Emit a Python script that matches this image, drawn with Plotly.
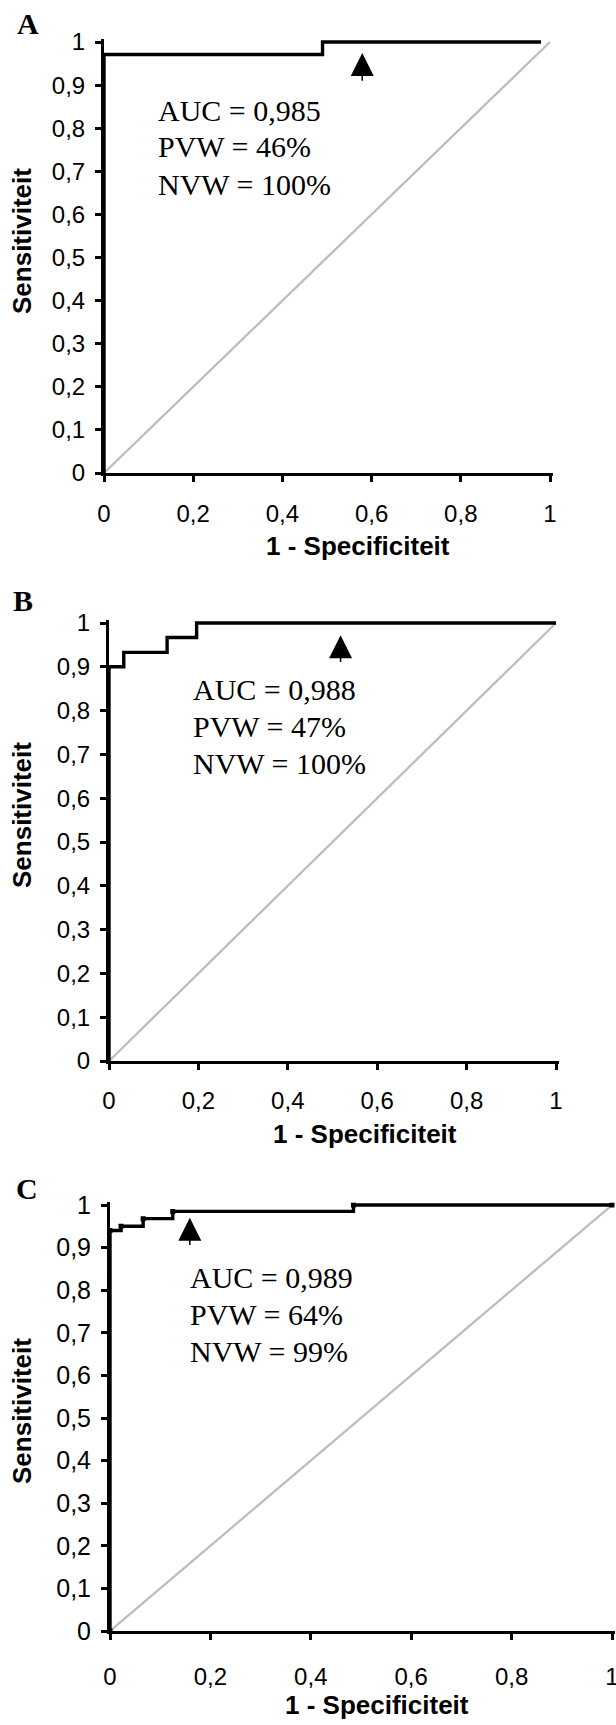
import plotly.graph_objects as go

W, H = 616, 1725

# ---------------- data ----------------
A_fpr = [0, 0, 0.49, 0.98]
A_tpr = [0, 0.971, 1.0, 1.0]
B_fpr = [0, 0, 0.033, 0.13, 0.196, 1.0]
B_tpr = [0, 0.9, 0.933, 0.967, 1.0, 1.0]
C_fpr = [0, 0, 0.022, 0.066, 0.125, 0.485, 1.0]
C_tpr = [0, 0.94, 0.95, 0.968, 0.985, 1.0, 1.0]
diag = [0, 1]

cutoff_x = [0.579, 0.518, 0.159]
cutoff_tip = [0.9745, 0.972, 0.970]
cutoff_stem = [0.91, 0.911, 0.906]

panel_labels = ["A", "B", "C"]
auc = ["0,985", "0,988", "0,989"]
pvw = ["46%", "47%", "64%"]
nvw = ["100%", "100%", "99%"]

y_tickvals = [0, 0.1, 0.2, 0.3, 0.4, 0.5, 0.6, 0.7, 0.8, 0.9, 1]
y_ticktext = ["0", "0,1", "0,2", "0,3", "0,4", "0,5", "0,6", "0,7", "0,8", "0,9", "1"]
x_tickvals = [0, 0.2, 0.4, 0.6, 0.8, 1]
x_ticktext = ["0", "0,2", "0,4", "0,6", "0,8", "1"]

x_title = "1 - Specificiteit"
y_title = "Sensitiviteit"

curves = [(A_fpr, A_tpr), (B_fpr, B_tpr), (C_fpr, C_tpr)]

# ---------------- layout geometry (pixels) ----------------
boxes = [
    dict(x0=104, x1=550, y0=473, y1=42),
    dict(x0=109, x1=556, y0=1061, y1=623),
    dict(x0=110, x1=612, y0=1631, y1=1205),
]
letter_pos = [(28, 24), (23, 600), (27, 1188)]
ytitle_pos = [(22, 241), (22, 815), (22, 1411)]
xtitle_pos = [(358, 546), (365, 1134), (377, 1705)]
stats_left = [156, 191, 188]
stats_rows = [(110, 147, 184), (689, 726, 763), (1277, 1314, 1351)]
xlab_standoff = [11, 10, 16]
ylab_size = [24, 24, 25]

PAD = 0.006
SANS = "Liberation Sans, Arial, sans-serif"
SERIF = "Liberation Serif, Times New Roman, serif"

fig = go.Figure()
layout = dict(
    width=W, height=H, margin=dict(l=0, r=0, t=0, b=0),
    paper_bgcolor="white", plot_bgcolor="white", showlegend=False,
    annotations=[],
)

for i, (fpr, tpr) in enumerate(curves):
    b = boxes[i]
    sx = (b["x1"] - b["x0"])
    sy = (b["y0"] - b["y1"])
    dx0 = b["x0"] / W
    dx1 = min(1.0, (b["x1"] + PAD * sx) / W)
    dy0 = 1 - b["y0"] / H
    dy1 = 1 - (b["y1"] - PAD * sy) / H
    xa = "x" if i == 0 else f"x{i+1}"
    ya = "y" if i == 0 else f"y{i+1}"
    xkey = "xaxis" if i == 0 else f"xaxis{i+1}"
    ykey = "yaxis" if i == 0 else f"yaxis{i+1}"

    fig.add_trace(go.Scatter(x=diag, y=diag, mode="lines", xaxis=xa, yaxis=ya,
                             line=dict(color="#bdbdbd", width=2.3), hoverinfo="skip"))
    if i == 2:
        fig.add_trace(go.Scatter(x=fpr, y=tpr, mode="lines+markers", xaxis=xa, yaxis=ya,
                                 line=dict(color="black", width=3.4, shape="hv"),
                                 marker=dict(size=5, color="black", symbol="square")))
    else:
        fig.add_trace(go.Scatter(x=fpr, y=tpr, mode="lines", xaxis=xa, yaxis=ya,
                                 line=dict(color="black", width=3.4, shape="hv")))
    # cut-off arrow: stem + triangle
    fig.add_trace(go.Scatter(x=[cutoff_x[i], cutoff_x[i]], y=[cutoff_stem[i], cutoff_tip[i] - 0.03],
                             mode="lines", xaxis=xa, yaxis=ya,
                             line=dict(color="black", width=1.5)))
    fig.add_trace(go.Scatter(x=[cutoff_x[i]], y=[cutoff_tip[i]], mode="markers", xaxis=xa, yaxis=ya,
                             marker=dict(symbol="arrow-up", size=23, color="black",
                                         line=dict(width=0))))

    xr = (dx1 * W - b["x0"]) / sx
    common = dict(showline=True, linewidth=3, linecolor="black", ticks="outside",
                  ticklen=6, tickwidth=3, tickcolor="black", showgrid=False, zeroline=False,
                  automargin=False, fixedrange=True, ticklabeloverflow="allow")
    layout[xkey] = dict(common, domain=[dx0, dx1], anchor=ya, tickmode="array",
                        range=[0, xr], tickvals=x_tickvals, ticktext=x_ticktext,
                        ticklabelstandoff=xlab_standoff[i],
                        tickfont=dict(family=SANS, size=24, color="black"))
    layout[ykey] = dict(common, domain=[dy0, dy1], anchor=xa, tickmode="array",
                        range=[0, 1 + PAD], tickvals=y_tickvals, ticktext=y_ticktext,
                        ticklabelstandoff=5,
                        tickfont=dict(family=SANS, size=ylab_size[i], color="black"))

    ann = layout["annotations"]
    lx, ly = letter_pos[i]
    ann.append(dict(text=f"<b>{panel_labels[i]}</b>", x=lx / W, y=1 - ly / H, xref="paper", yref="paper",
                    xanchor="center", yanchor="middle", showarrow=False,
                    font=dict(family=SERIF, size=30, color="black")))
    tx, ty = ytitle_pos[i]
    ann.append(dict(text=f"<b>{y_title}</b>", x=tx / W, y=1 - ty / H, xref="paper", yref="paper",
                    xanchor="center", yanchor="middle", showarrow=False, textangle=-90,
                    font=dict(family=SANS, size=26, color="black")))
    tx, ty = xtitle_pos[i]
    ann.append(dict(text=f"<b>{x_title}</b>", x=tx / W, y=1 - ty / H, xref="paper", yref="paper",
                    xanchor="center", yanchor="middle", showarrow=False,
                    font=dict(family=SANS, size=26, color="black")))
    lines = [f"AUC = {auc[i]}", f"PVW = {pvw[i]}", f"NVW = {nvw[i]}"]
    for txt, ry in zip(lines, stats_rows[i]):
        ann.append(dict(text=txt, x=stats_left[i] / W, y=1 - ry / H, xref="paper", yref="paper",
                        xanchor="left", yanchor="middle", showarrow=False,
                        font=dict(family=SERIF, size=30, color="black")))

fig.update_layout(**layout)
fig.write_html("out.html", config={"displayModeBar": False},
               post_script="document.body.style.margin='0px';")
